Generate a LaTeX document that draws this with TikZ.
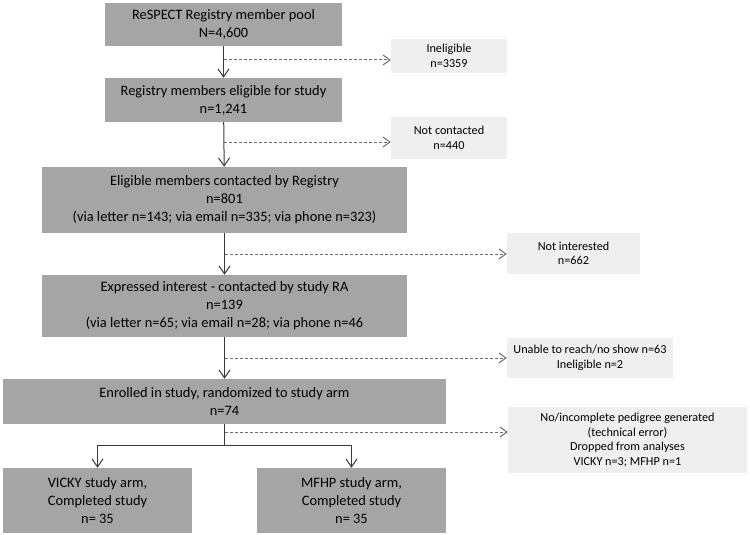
\documentclass[tikz,border=0pt]{standalone}
\usepackage{fontspec}
\setmainfont{Carlito}
\usetikzlibrary{arrows.meta}
\definecolor{boxgray}{HTML}{A5A5A5}
\definecolor{sidegray}{HTML}{EFEFEF}
\definecolor{linegray}{HTML}{3A3A3A}
\definecolor{dashgray}{HTML}{6E6E6E}

\begin{document}
\begin{tikzpicture}[x=1pt, y=-1pt, line join=round,
  mainbox/.style={fill=boxgray, inner sep=0pt, align=center, font=\fontsize{14.4}{18}\selectfont},
  sidebox/.style={fill=sidegray, inner sep=0pt, align=center, font=\fontsize{12.2}{14.6}\selectfont},
  flow/.style={draw=linegray, line width=1pt, -{Straight Barb[length=8pt,width=11pt]}},
  skip/.style={draw=dashgray, line width=1pt, dash pattern=on 3pt off 2pt, -{Straight Barb[length=7pt,width=10pt]}}]
\useasboundingbox (0,0) rectangle (750,535);
% main column
\node[mainbox, minimum width=237, minimum height=43] (pool) at (223.5,24.5) {ReSPECT Registry member pool\\N=4,600};
\node[mainbox, minimum width=237, minimum height=44] (elig) at (223.5,100) {Registry members eligible for study\\n=1,241};
\node[mainbox, minimum width=365, minimum height=66] (contact) at (224.5,200) {Eligible members contacted by Registry\\n=801\\(via letter n=143; via email n=335; via phone n=323)};
\node[mainbox, minimum width=365, minimum height=62] (interest) at (224.5,306) {Expressed interest - contacted by study RA\\n=139\\(via letter n=65; via email n=28; via phone n=46};
\node[mainbox, minimum width=443, minimum height=45] (enrol) at (224.5,401.5) {Enrolled in study, randomized to study arm\\n=74};
\node[mainbox, minimum width=189, minimum height=65] (vicky) at (97.5,500.5) {VICKY study arm,\\Completed study\\n= 35};
\node[mainbox, minimum width=189, minimum height=65] (mfhp) at (351.5,500.5) {MFHP study arm,\\Completed study\\n= 35};
% exclusions
\node[sidebox, minimum width=116, minimum height=34] (inel) at (449,56) {Ineligible\\n=3359};
\node[sidebox, minimum width=116, minimum height=42] (notc) at (449,138) {Not contacted\\n=440};
\node[sidebox, minimum width=133, minimum height=41] (noti) at (573.5,253.5) {Not interested\\n=662};
\node[sidebox, minimum width=166, minimum height=40] (unable) at (590,358) {Unable to reach/no show n=63\\Ineligible n=2};
\node[sidebox, minimum width=239, minimum height=66] (noped) at (627.5,440) {No/incomplete pedigree generated\\(technical error)\\Dropped from analyses\\VICKY n=3; MFHP n=1};
% connectors
\coordinate (j1) at (pool.south |- 0,60);
\coordinate (j2) at (elig.south |- 0,142);
\coordinate (j3) at (contact.south |- 0,254);
\coordinate (j4) at (interest.south |- 0,358);
\coordinate (j5) at (enrol.south |- 0,432);
\coordinate (split) at (enrol.south |- 0,445);
\draw[flow] (pool) -- (elig);
\draw[flow] (elig) -- (contact);
\draw[flow] (contact) -- (interest);
\draw[flow] (interest) -- (enrol);
\draw[draw=linegray, line width=1pt] (enrol.south) -- (split);
\draw[flow] (split) -| (vicky.north);
\draw[flow] (split) -| (mfhp.north);
\draw[skip] (j1) -- (j1 -| inel.west);
\draw[skip] (j2) -- (j2 -| notc.west);
\draw[skip] (j3) -- (j3 -| noti.west);
\draw[skip] (j4) -- (j4 -| unable.west);
\draw[skip] (j5) -- (j5 -| noped.west);
\end{tikzpicture}
\end{document}
